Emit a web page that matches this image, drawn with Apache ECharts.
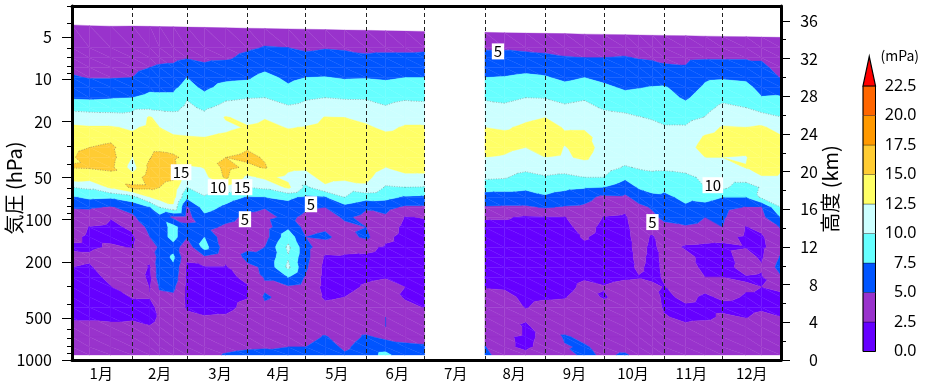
<!DOCTYPE html>
<html><head><meta charset="utf-8">
<style>html,body{margin:0;padding:0;background:#fff}#c{width:933px;height:390px}</style>
<script src="https://cdn.jsdelivr.net/npm/echarts@6/dist/echarts.min.js"></script>
</head><body><div id="c"></div>
<script>
const monthLabels=['1月','2月','3月','4月','5月','6月','7月','8月','9月','10月','11月','12月'];
const monthMidDays=[15,45,76,106,136,167,197,227,258,288,318,349];
const monthEndDays=[31,59,90,120,151,181,212,243,273,304,334];
const pressureMajor=[5,10,20,50,100,200,500,1000];
const pressureMinor=[3,4,6,7,8,9,30,40,60,70,80,90,300,400,600,700,800,900];
const heightMajor=[0,4,8,12,16,20,24,28,32,36];
const heightMinor=[2,6,10,14,18,22,26,30,34];
const levels=[0,2.5,5,7.5,10,12.5,15,17.5,20,22.5];
const bandColors=['#6600FF','#9933CC','#0055FF','#66FFFF','#CCFFFF','#FFFF66','#FFCC33','#FF9900','#FF6600'];
const capColor='#FF0000';
const contourLabels=[[56,45.9,'15'],[75,58.7,'10'],[87.3,58.7,'15'],[122.7,77.6,'5'],[88.8,99.2,'5'],[218.7,6.32,'5'],[329,56.8,'10'],[298,104,'5']];
const columnDays=[0,9,20,31,40,45,52,59,68,79,90,99,111,120,130,140,151,161,171,181,212,222,233,243,253,263,273,284,291,298,304,315,325,334,346,354,364];
const gapAfterDay=181;
const ceilingHpa=[4.09,4.14,4.18,4.17,4.19,4.2,4.21,4.24,4.26,4.29,4.32,4.34,4.37,4.39,4.42,4.45,4.47,4.5,4.53,4.55,4.62,4.65,4.68,4.7,4.72,4.76,4.78,4.8,4.83,4.85,4.86,4.88,4.92,4.94,4.96,4.99,5.02];
const rowHpa=[5.94,7,8.24,9.71,11.4,13.5,15.9,18.7,22,25.9,30.6,36,42.4,49.9,58.8,69.3,81.6,96.1,113,133,157,185,218,257,302,356,420,494,582,686,808,921];
const ozoneColumns=[
[3,3.8,4.2,4.6,5.2,6.2,7.2,9.2,11.2,13,14,14.5,14.8,15.1,14,10,7.2,5.2,4.5,3.5,2.9,2.2,3,2.5,2,1.8,1.8,1.8,2.2,3,3.5,3.8,4],
[3.2,3.9,4.2,4.5,4.9,6.1,7.1,9,11.2,12.7,14,15,15.8,15.2,13.5,10.5,8,5.3,3.8,2.4,2.2,2.2,2.8,2.3,1.8,1.8,1.8,1.8,2.2,3,3.5,3.8,4],
[3.3,3.9,4.2,4.5,4.9,6.1,7.3,9,11,12.7,14.4,15.5,15.9,15.6,14,13,7.8,4.8,2.6,2.1,2.1,2.7,3.5,3.5,3,2.4,1.8,1.8,2,3,3.5,3.8,4],
[3.4,3.9,4.2,4.5,5,6.2,7.5,9.4,10.8,12.2,13,13.3,12.4,11.5,13.5,15.5,9,5.8,4.6,2.8,2.2,2.4,3.5,3.8,4,4.6,2.6,1.9,2.2,3,3.5,3.8,4],
[3.5,4,4.5,5,5.9,7,8.1,9.5,12.8,13,13.7,14.5,14.9,15.6,16.2,15.5,12.5,7.5,6.5,5.8,5,4,3,2.3,2,2.4,2.6,2,2,2.6,3.2,3.5,4],
[3.5,4.1,4.6,5.2,6.1,7,8,9.4,11.5,12.5,13.2,14.5,15.7,16,15.8,15,13.5,10,6.5,6,6,5.3,6,6.5,6.5,5.3,4.3,3,2.7,3,3.3,3.6,4],
[3.5,4.1,4.6,5.3,6.2,7,8,9.3,11,12,12.7,14,15.5,16,15.4,14,13.5,12,4.4,8.5,8.5,6.5,8,7,6.5,5.5,4.6,4,3.6,3.5,3.5,3.8,4],
[3.6,4.2,4.9,5.9,7.5,8.3,9.8,10.5,11.2,11.9,12.6,13.5,14.3,12,11,10,8,4.7,4.2,5.5,5.2,3.2,2.8,2.2,2,2,2,2.2,3,3.5,3.6,3.8,4],
[3.7,4.2,4.6,5.4,6.4,7,8.2,9.6,10.7,11.6,12.5,13.3,13.8,12.6,11.8,11,9.8,8.5,6.8,5.7,7.5,8.5,4.5,2.3,2,1.9,1.9,2,2.6,3.5,3.7,3.8,4.2],
[3.7,4.2,4.7,5.9,7,8.2,9.6,10.8,12.7,12,13,14,15,15.8,15.4,12,8.5,7,5.7,4.6,3.2,3.6,3,2.3,1.9,1.9,1.9,2,2.7,3.5,3.8,4.4,5.2],
[3.8,4.7,5.5,6.2,7.2,8.4,9.9,11,11.8,12.7,13.8,14.8,15.5,14.5,12,10,7.3,5.5,4.5,4,4,4.6,5.6,4.5,3,2.3,2.4,3,3.5,3.7,3.8,4.7,5.6],
[3.9,5.1,6,7,8.2,9,10,11.2,12.4,13,13.8,14.3,14.8,15.2,13,10.5,7.5,5.1,4.4,4,4,5,5.4,5.3,5.2,4.6,5.3,4.5,4,3.8,3.8,4.8,5.7],
[3.9,5,5.7,6.4,7,7.8,9,10.3,11.3,12.4,13.2,13.8,13.8,13,12,13,8,6.5,5.5,7,9,10.5,9.8,10.5,7.6,4.6,4.2,3.8,3.6,3.8,4.2,5,5.5],
[4,4.7,5.5,6.4,7.5,8.5,9.7,10.7,11.7,12.6,13.2,13.6,13.4,12.9,11.5,9.5,7,5.3,4.5,4.2,5,5.8,5.8,5.4,4.7,4,3.7,3.5,3.6,3.8,4.2,5,5.4],
[4,4.9,5.6,6.3,7.6,8.7,10,11.1,12.6,13,13.5,14,14.3,14.3,13.5,12,7.3,5,4,4.6,5.5,3.5,2.2,1.8,1.8,1.9,2.2,3,3.5,4,5.2,6,5.5],
[4.1,4.8,5.5,6.2,7.3,8.4,9.8,11,12.5,13,13.5,14,14.3,14.2,13.2,11,10,6.5,5.3,4.5,4,3,2.3,1.8,1.8,2,2.5,3.2,3.6,3.8,4,4.6,5.3],
[4.2,4.7,5.2,6.3,7.4,8.6,9.8,10.9,12,12.8,13.2,13.6,14,14,13.2,12,8.5,5.2,4.5,5,5.5,3,2.2,2,2.2,2.7,3.2,3.7,3.9,4,5.3,6,6.2],
[4.2,4.7,5.3,6.2,7.2,8.3,9.3,10.2,11.1,12.1,13,13.6,13.6,12.5,11,9.8,8.2,5.8,4.6,3.8,3,2.2,1.9,1.9,2.4,3,3.5,4,5,5,4.5,6.3,8.3],
[4.3,4.7,5.3,6.4,7.5,8.5,9.7,10.8,11.9,12.7,13.2,13.6,13.7,13.2,12,10,7.2,4.6,2.4,1.9,1.8,1.8,1.8,1.9,2.1,2.5,2.3,3,4.4,4,4.3,5.5,5.6],
[4.6,4.8,5.3,6.4,7.5,8.5,9.6,10.6,11.6,12.7,13.2,13.6,13.7,13.2,12,9.9,7,4.6,2.6,1.9,1.8,1.8,1.8,1.9,2.1,2.4,2.4,2.4,3.5,3.8,4.2,5.3,5.6],
[3.6,4.8,5.6,6.6,7.5,8.6,9.7,10.8,11.6,12.5,13.3,13.3,12.5,11.5,10.4,8.4,6.5,4.8,2.7,1.9,1.8,1.7,1.7,1.8,2,2.4,3,3.5,3.7,3.8,4.2,5.1,5.6],
[3.7,4.8,5.6,6.7,7.6,8.4,9.5,10.4,11.1,12.2,13.2,13,12.3,11.2,10.2,8.4,6.3,4.7,2.7,1.9,1.8,1.7,1.7,1.8,1.9,2.3,3,3.4,3.8,4.8,2.9,2.9,3.8],
[3.7,4.6,5.6,6.9,7.9,8.9,10,10.9,12,13,13.5,12.5,11.6,10.6,9.2,8,6.3,4.7,2.2,1.8,1.7,1.7,1.7,1.7,1.8,1.9,2.1,2.4,3,2,2,2.1,3],
[3.8,4.5,5.4,6.6,7.7,8.7,9.9,11.2,12.5,13.5,14,13.6,12.5,11,9.8,8.4,7.2,5.2,2.3,1.8,1.7,1.7,1.7,1.7,1.8,1.9,2.3,3,3.4,3.9,3,3.2,4.6],
[3.8,4.4,5.1,6.1,7,8.2,9.3,10.4,11.4,12.3,12.9,12.4,12.2,10.9,9.5,8,6.5,4.8,2.4,1.8,1.7,1.7,1.7,1.7,1.8,1.9,2.4,3,3.6,4,5.3,4.8,4],
[3.9,4.3,5,6.2,7.5,8.6,9.7,10.8,11.6,12.3,13,13.4,12.9,11.4,10,7.7,5.8,4.6,4,3.4,2.7,2.1,1.9,1.9,2.3,2.9,3.3,3.6,3.8,4,4.4,5.3,5.6],
[3.9,4.4,5,6,7,7.9,8.8,9.7,11,11.6,11.8,11.7,11.4,11,10,7.5,4.4,3.6,2.4,1.9,1.8,1.8,1.8,1.8,2,2.6,2.3,3.3,3.7,3.9,4,4.2,4.6],
[3.9,4.4,5.1,5.8,6.5,7.2,8.2,9.4,10.5,11.3,12,11.6,10.9,9.8,8,6,4.6,3,2.2,1.9,1.8,1.8,1.8,1.9,2.3,3,3.3,3.6,3.8,4,4,4.2,5.3],
[4,4.3,4.9,5.6,6.6,7.4,8.4,9.3,10.1,10.9,11.4,11.1,10.8,10.2,9,7.8,5.8,4.5,4,3.8,3.5,3.2,3,2.8,2.4,3,3.5,3.7,3.8,4,4,4,4.2],
[4,4.3,4.8,5.5,6.4,7.6,8.4,9,9.8,10.6,11.1,11,10.9,10.4,9.4,8.5,6.8,5.2,4.6,3.5,2.2,2,2,2,2,3,3.5,3.7,3.8,4,4,4,4.2],
[4,4.3,4.7,5.2,6,7.7,8.3,8.8,9.4,10.2,10.8,11,11,10.4,9.2,8,7,6,5.4,4.5,3.8,3.3,2.9,2.8,2.7,2.4,2,2.2,2.7,3.6,4,4,4.2],
[4,4.3,4.7,5.1,5.8,6.5,7.2,8.2,9.3,10.2,10.8,11.4,11.8,10.8,9.4,8.8,8,7.2,5.8,4.8,3.2,2.3,3,3.4,3.6,3.6,3,2.2,1.9,3,3.8,4,4.2],
[4.1,4.2,4.8,5.9,7.2,7.8,8.5,9.3,10.1,11.5,12.8,13.5,12.5,11.2,10.5,10,8.5,6.5,5,4.5,3,2.2,2,2,2.5,3,2.2,2,2,3.4,3.8,4,4.2],
[4.2,4.2,4.8,5.9,7.3,8.3,9.4,10.5,11.4,12.7,13.4,13.6,12.5,11.5,11,10.4,7.5,5.6,5.3,5,3,2.1,1.9,2,2.5,3,2.8,2,2.8,3.6,3.8,4,4.2],
[4.3,4.3,4.8,5.8,7.1,8.1,9.1,10,10.8,12.5,13.4,13.5,12.3,12.6,11,9,7.5,4.9,3.4,2.4,2.2,2.4,3.2,3,2.4,2.6,2.4,2,2.4,3.4,3.8,4,4.2],
[4.4,4.3,4.8,5.4,6.1,6.8,7.6,9.2,10.8,12.9,13.5,14,14.6,15,12,10.2,10.4,4.9,4.3,3,2.2,2,2.2,2.7,2.3,2.5,2.4,2.2,2.9,3.5,3.8,4,4.2],
[3.5,3.8,4,4.4,4.9,6.2,7.7,8.9,10.1,11.5,12.8,13.2,13.5,12.9,12,11.5,11,10,7.7,5.2,4.4,4,5.3,6,4.8,3,2,2,2.5,3.3,3.8,4,4.2]
];

const cells=[];
for(let i=0;i<columnDays.length-1;i++){
  if(columnDays[i]===gapAfterDay) continue;
  for(let j=0;j<rowHpa.length;j++) cells.push([columnDays[i],rowHpa[j],i,j]);
}
const hpaAt=(i,j)=>j===0?ceilingHpa[i]:rowHpa[j-1];
function clip(poly,level,keepAbove){
  const out=[];
  for(let a=0;a<poly.length;a++){
    const p=poly[a],q=poly[(a+1)%poly.length];
    const pin=keepAbove?p[2]>=level:p[2]<=level, qin=keepAbove?q[2]>=level:q[2]<=level;
    if(pin) out.push(p);
    if(pin!==qin){const t=(level-p[2])/(q[2]-p[2]);out.push([p[0]+t*(q[0]-p[0]),p[1]+t*(q[1]-p[1]),level]);}
  }
  return out;
}
function cross(tri,level){
  const pts=[];
  for(let a=0;a<3;a++){
    const p=tri[a],q=tri[(a+1)%3];
    if((p[2]<level)!==(q[2]<level)){const t=(level-p[2])/(q[2]-p[2]);pts.push([p[0]+t*(q[0]-p[0]),p[1]+t*(q[1]-p[1])]);}
  }
  return pts.length===2?pts:null;
}
function renderCell(params,api){
  const i=api.value(2),j=api.value(3);
  const corner=(ci,cj)=>{const c=api.coord([columnDays[ci],hpaAt(ci,cj)]);return [c[0],c[1],ozoneColumns[ci][cj]];};
  const a=corner(i,j),b=corner(i+1,j),c=corner(i+1,j+1),d=corner(i,j+1);
  const children=[];
  [[a,b,c],[a,c,d]].forEach(tri=>{
    bandColors.forEach((col,k)=>{
      let poly=clip(tri,levels[k],true);
      if(poly.length) poly=clip(poly,levels[k+1],false);
      if(poly.length>2) children.push({type:'polygon',shape:{points:poly.map(p=>[p[0],p[1]])},style:{fill:col,stroke:col,lineWidth:0.35},silent:true});
    });
    [10,15].forEach(l=>{
      const s=cross(tri,l);
      if(s) children.push({type:'line',shape:{x1:s[0][0],y1:s[0][1],x2:s[1][0],y2:s[1][1]},style:{stroke:'rgba(80,80,80,0.55)',lineWidth:0.7,lineDash:[1,1.5]},silent:true,z2:5});
    });
  });
  return {type:'group',children};
}
const fontTick="'Noto Sans CJK JP',sans-serif";
const logAxisBase={type:'log',logBase:10,min:3,max:1000,inverse:true,gridIndex:0,position:'left',splitLine:{show:false},minorTick:{show:false},z:6};
const kmAxisBase={type:'value',min:0,max:37.58,gridIndex:0,position:'right',splitLine:{show:false},z:6};
const frameLine={show:true,lineStyle:{color:'#000',width:3}};
const option={
  animation:false,
  grid:[{left:72,top:6,width:709,height:354},{left:863,top:56.5,width:12.5,height:295}],
  xAxis:[
    {type:'value',gridIndex:0,min:0,max:364,position:'bottom',axisLine:{...frameLine,onZero:false},axisTick:{show:false},splitLine:{show:false},z:6,
     axisLabel:{customValues:monthMidDays,margin:6,color:'#000',fontSize:15,fontFamily:fontTick,hideOverlap:false,showMinLabel:true,showMaxLabel:true,formatter:v=>monthLabels[monthMidDays.indexOf(v)]||''}},
    {type:'value',gridIndex:0,min:0,max:364,position:'top',axisLine:{...frameLine,onZero:false},axisTick:{show:false},axisLabel:{show:false},splitLine:{show:false},z:6},
    {type:'value',gridIndex:1,min:0,max:1,show:false}
  ],
  yAxis:[
    {...logAxisBase,axisLine:{...frameLine,onZero:false},axisTick:{show:true,length:10,customValues:pressureMajor,lineStyle:{color:'#000',width:1}},
     axisLabel:{customValues:pressureMajor,margin:20,align:'right',color:'#000',fontSize:16,fontFamily:fontTick,hideOverlap:false,showMinLabel:true,showMaxLabel:true,formatter:v=>String(Math.round(v))}},
    {...logAxisBase,axisLine:{show:false,onZero:false},axisTick:{show:true,length:5,customValues:pressureMinor,lineStyle:{color:'#000',width:1}},axisLabel:{show:false}},
    {...kmAxisBase,axisLine:{...frameLine,onZero:false},axisTick:{show:true,length:9,customValues:heightMajor,lineStyle:{color:'#000',width:1}},
     axisLabel:{customValues:heightMajor,margin:37,align:'right',color:'#000',fontSize:16,fontFamily:fontTick,hideOverlap:false,showMinLabel:true,showMaxLabel:true}},
    {...kmAxisBase,axisLine:{show:false,onZero:false},axisTick:{show:true,length:5,customValues:heightMinor,lineStyle:{color:'#000',width:1}},axisLabel:{show:false}},
    {type:'value',gridIndex:1,min:0,max:25,interval:2.5,position:'right',axisLine:{show:false},axisTick:{show:false},splitLine:{show:false},
     axisLabel:{margin:41,align:'right',color:'#000',fontSize:16,fontFamily:"'Noto Sans',sans-serif",formatter:v=>v>22.5?'':v.toFixed(1)}}
  ],
  series:[
    {type:'custom',xAxisIndex:0,yAxisIndex:0,data:cells,renderItem:renderCell,encode:{x:0,y:1},clip:false,silent:true,z:2,progressive:0,
     markLine:{silent:true,symbol:'none',label:{show:false},z:4,animation:false,lineStyle:{color:'#222',width:1,type:[4,3]},data:monthEndDays.map(d=>({xAxis:d}))}},
    {type:'scatter',xAxisIndex:0,yAxisIndex:0,data:contourLabels,symbolSize:1,itemStyle:{color:'rgba(0,0,0,0)',opacity:1},z:7,silent:true,
     label:{show:true,position:'inside',formatter:p=>p.data[2],color:'#000',fontSize:15,fontFamily:fontTick,backgroundColor:'#fff',padding:[0,2],lineHeight:16}},
    {type:'custom',xAxisIndex:2,yAxisIndex:4,silent:true,clip:false,z:3,encode:{y:0},
     data:levels.map((l,k)=>[l,k]),
     renderItem(params,api){
       const k=api.value(1),lo=levels[k];
       const left=api.coord([0,lo])[0],right=api.coord([1,lo])[0];
       if(k===levels.length-1){
         const y0=api.coord([0,lo])[1],yTop=api.coord([0,25])[1];
         return {type:'polygon',shape:{points:[[left,y0],[right,y0],[(left+right)/2,yTop]]},style:{fill:capColor,stroke:'#000',lineWidth:1.2}};
       }
       const y0=api.coord([0,lo])[1],y1=api.coord([0,levels[k+1]])[1];
       return {type:'group',children:[
         {type:'rect',shape:{x:left,y:y1,width:right-left,height:y0-y1},style:{fill:bandColors[k],stroke:'rgba(0,0,0,0.3)',lineWidth:1}},
         {type:'line',shape:{x1:left,y1:y0,x2:left,y2:y1},style:{stroke:'#000',lineWidth:1}},
         {type:'line',shape:{x1:right,y1:y0,x2:right,y2:y1},style:{stroke:'#000',lineWidth:1}}
       ].concat(k===0?[{type:'line',shape:{x1:left,y1:y0,x2:right,y2:y0},style:{stroke:'#000',lineWidth:1}}]:[])};
     }}
  ],
  graphic:[
    {type:'text',x:14,y:188,rotation:Math.PI/2,style:{text:'気圧 (hPa)',font:"20px 'Noto Sans CJK JP'",fill:'#000',align:'center',verticalAlign:'middle'}},
    {type:'text',x:830,y:189,rotation:Math.PI/2,style:{text:'高度 (km)',font:"20px 'Noto Sans CJK JP'",fill:'#000',align:'center',verticalAlign:'middle'}},
    {type:'text',x:919,y:56,style:{text:'(mPa)',font:"14px 'Noto Sans CJK JP'",fill:'#000',align:'right',verticalAlign:'middle'}}
  ]
};
echarts.init(document.getElementById('c'),null,{renderer:'canvas'}).setOption(option);
</script></body></html>
